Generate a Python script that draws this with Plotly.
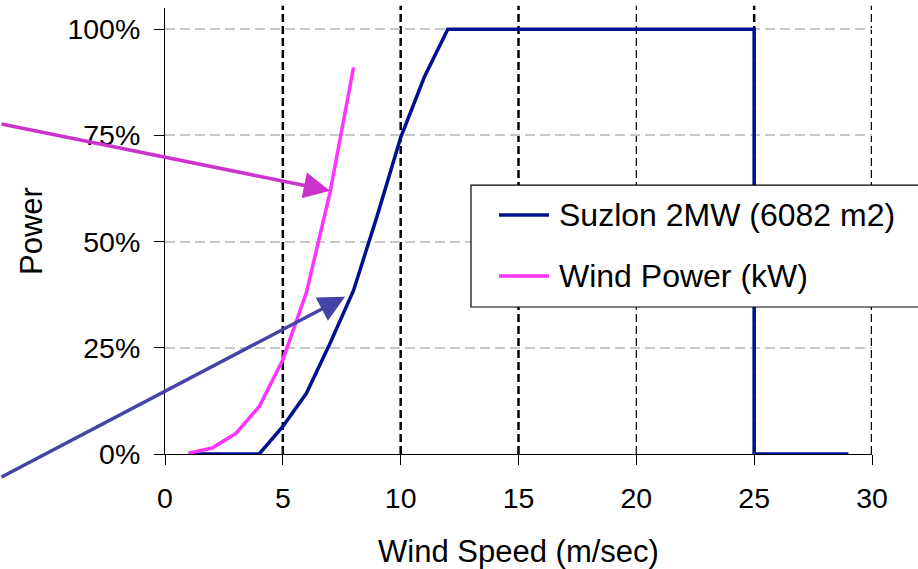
import plotly.graph_objects as go

# ---- data ----
suzlon_speed = [1, 2, 3, 4, 5, 6, 7, 8, 9, 10, 11, 12, 13, 14, 15, 16, 17, 18, 19, 20,
                21, 22, 23, 24, 25, 25, 26, 27, 28, 29]
suzlon_power = [0, 0, 0, 0, 0.065, 0.143, 0.26, 0.385, 0.56, 0.745, 0.887, 1.0, 1.0, 1.0,
                1.0, 1.0, 1.0, 1.0, 1.0, 1.0, 1.0, 1.0, 1.0, 1.0, 1.0, 0, 0, 0, 0, 0]
wind_speed = [1, 2, 3, 4, 5, 6, 7, 8]
wind_power = [0.002, 0.014, 0.048, 0.112, 0.222, 0.38, 0.615, 0.91]

series_names = ["Suzlon 2MW (6082 m2)", "Wind Power (kW)"]
series_colors = ["#001090", "#FF33FF"]

x_ticks = [0, 5, 10, 15, 20, 25, 30]
y_ticks = [0, 0.25, 0.5, 0.75, 1.0]
y_ticklabels = ["0%", "25%", "50%", "75%", "100%"]

bold_vlines = [5, 10, 15, 25, 30]
thin_vlines = [20]

# arrow tips (data coords) and tail offsets (px)
arrow_tips = [(7.0, 0.62), (7.64, 0.37)]
arrow_offsets = [(-330, -67), (-345, 181)]
arrow_colors = ["#CC33CC", "#4444A8"]

FONT = "Liberation Sans, Arial, sans-serif"

fig = go.Figure()
fig.add_trace(go.Scatter(x=suzlon_speed, y=suzlon_power, mode="lines",
                         line=dict(color=series_colors[0], width=3.5),
                         name=series_names[0], showlegend=False))
fig.add_trace(go.Scatter(x=wind_speed, y=wind_power, mode="lines",
                         line=dict(color=series_colors[1], width=3.5),
                         name=series_names[1], showlegend=False))

shapes = []
for v in bold_vlines:
    shapes.append(dict(type="line", xref="x", yref="paper", x0=v, x1=v, y0=0, y1=1.005,
                       line=dict(color="black", width=2.5, dash="8px,4px"), layer="below"))
for v in thin_vlines:
    shapes.append(dict(type="line", xref="x", yref="paper", x0=v, x1=v, y0=0, y1=1.005,
                       line=dict(color="black", width=1.2, dash="8px,4px"), layer="below"))

# manual legend box
shapes.append(dict(type="rect", xref="paper", yref="paper", x0=0.4328, x1=1.09, y0=0.3296, y1=0.603,
                   line=dict(color="black", width=1.2), fillcolor="white", layer="above"))
legend_rows = [0.5359, 0.3991]
annotations = []
for name, col, yy in zip(series_names, series_colors, legend_rows):
    shapes.append(dict(type="line", xref="paper", yref="paper", x0=0.4724, x1=0.5431, y0=yy, y1=yy,
                       line=dict(color=col, width=3.5), layer="above"))
    annotations.append(dict(xref="paper", yref="paper", x=0.5545, y=yy, text=name, showarrow=False,
                            xanchor="left", yanchor="middle",
                            font=dict(family=FONT, size=32, color="black")))

for (tx, ty), (ax, ay), col in zip(arrow_tips, arrow_offsets, arrow_colors):
    annotations.append(dict(x=tx, y=ty, xref="x", yref="y", ax=ax, ay=ay, axref="pixel", ayref="pixel",
                            text="", showarrow=True, arrowhead=2, arrowsize=1.5, arrowwidth=3.5,
                            arrowcolor=col, standoff=0, startstandoff=0))

fig.update_layout(
    width=918, height=569,
    margin=dict(l=165, r=46, t=8, b=115),
    paper_bgcolor="white", plot_bgcolor="white",
    font=dict(family=FONT, size=28, color="black"),
    shapes=shapes, annotations=annotations,
    showlegend=False,
)
fig.update_xaxes(range=[0, 30], tickvals=x_ticks, ticks="outside", ticklen=10, tickcolor="black",
                 tickwidth=1, showline=True, linecolor="black", linewidth=1, showgrid=False,
                 zeroline=False, tickfont=dict(size=28.5), ticklabelstandoff=9, automargin=False,
                 title=dict(text="Wind Speed (m/sec)", font=dict(size=31), standoff=28))
fig.update_yaxes(range=[0, 1.05], tickvals=y_ticks, ticktext=y_ticklabels, ticks="outside", ticklen=10,
                 tickcolor="black", tickwidth=1, showline=True, linecolor="black", linewidth=1,
                 showgrid=True, gridcolor="#C8C8C8", gridwidth=1.5, griddash="10px,5px",
                 zeroline=False, tickfont=dict(size=28.5), ticklabelstandoff=8, automargin=False,
                 title=dict(text="Power", font=dict(size=31), standoff=15))

fig.write_html("out.html")
